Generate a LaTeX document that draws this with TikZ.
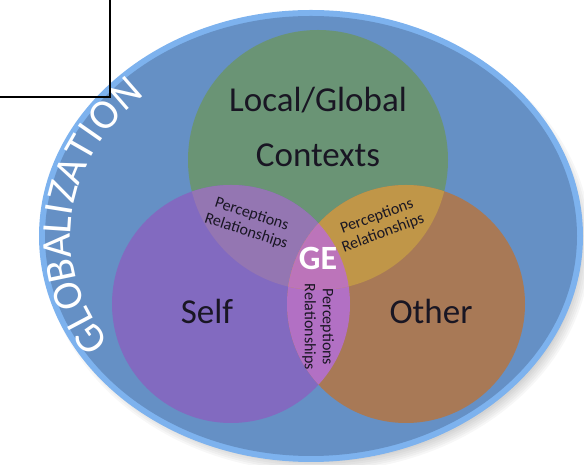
\documentclass[tikz,border=0pt]{standalone}
\usepackage{fontspec}
\setmainfont{Carlito}
\usepackage{tikz}
\usetikzlibrary{positioning,calc}

\definecolor{globrim}{RGB}{125,178,238}
\definecolor{globfill}{RGB}{101,144,197}
\definecolor{ctxgreen}{RGB}{106,148,117}
\definecolor{selfpurple}{RGB}{130,106,192}
\definecolor{otherorange}{RGB}{168,121,86}
\definecolor{lenspg}{RGB}{148,118,178}
\definecolor{lensgo}{RGB}{192,150,72}
\definecolor{lenspo}{RGB}{178,112,196}
\definecolor{lenscore}{RGB}{188,116,186}
\definecolor{labelink}{RGB}{25,22,35}

\tikzset{
  bigword/.style={font=\fontsize{35}{55}\selectfont, text=labelink, align=center},
  smallword/.style={font=\fontsize{16}{18}\selectfont, text=labelink, align=center, inner sep=0pt},
  globletter/.style={font=\fontsize{42}{42}\selectfont, text=white, inner sep=0pt},
}

\begin{document}
\begin{tikzpicture}[x=1pt,y=1pt]

  \useasboundingbox (0,0) rectangle (584,465);

  \coordinate (globe) at (311,229);
  \coordinate (ctx) at (318,305);
  \coordinate (self) at (231,161);
  \coordinate (other) at (406,161);

  % soft shadow
  \foreach \k in {0,...,7}{
    \pgfmathsetmacro\rx{274-2*\k}
    \pgfmathsetmacro\ry{228-2*\k}
    \fill[black,opacity=.03] ($(globe)+(6,-8)$) ellipse [x radius=\rx pt, y radius=\ry pt];
  }

  \fill[globrim] (globe) ellipse [x radius=272pt, y radius=226pt];
  \fill[globfill] (globe) ellipse [x radius=266pt, y radius=220pt];

  \fill[ctxgreen] (ctx) circle (130pt);
  \fill[selfpurple] (self) circle (119pt);
  \fill[otherorange] (other) circle (119pt);

  \begin{scope}
    \clip (self) circle (119pt);
    \fill[lenspg] (ctx) circle (130pt);
    \fill[lenspo] (other) circle (119pt);
    \clip (other) circle (119pt);
    \fill[lenscore] (ctx) circle (130pt);
  \end{scope}
  \begin{scope}
    \clip (ctx) circle (130pt);
    \fill[lensgo] (other) circle (119pt);
    \clip (self) circle (119pt);
    \fill[lenscore] (other) circle (119pt);
  \end{scope}

  \node[bigword] (ctxlabel) at (318,338) {Local/Global\\Contexts};
  \node[bigword] (selflabel) at (207,154) {Self};
  \node[bigword] (otherlabel) at (431,154) {Other};

  \node[smallword, rotate=-18] (pglabel) at (249,242) {Perceptions\\Relationships};
  \node[smallword, rotate=20] (golabel) at (380,240) {Perceptions\\Relationships};
  \node[smallword, rotate=-90] (polabel) at (318,138) {Perceptions\\Relationships};

  \node[font=\fontsize{34}{34}\selectfont\bfseries, text=white] (ge) at (318,207) {GE};

  \foreach \ch/\t [count=\i] in {G/209.9,L/203.5,O/196.9,B/189.7,A/182.9,L/176.8,I/172.5,Z/167.8,A/161.4,T/154.9,I/150.2,O/144.6,N/136.7}{
    \pgfmathsetmacro\rot{atan2(-210*cos(\t),256*sin(\t))}
    \node[globletter, rotate=\rot] (glob\i) at ($(globe)+({254*cos(\t)},{208*sin(\t)})$) {\ch};
  }

  \coordinate (boxtop) at (110,465);
  \coordinate (boxcorner) at (110,368);
  \coordinate (boxleft) at (0,368);
  \draw[line width=2pt] (boxtop) -- (boxcorner) -- (boxleft);

\end{tikzpicture}
\end{document}
